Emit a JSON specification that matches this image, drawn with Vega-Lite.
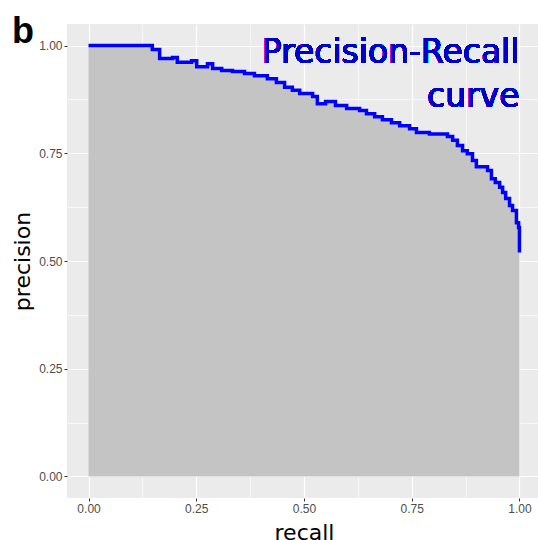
{
  "$schema": "https://vega.github.io/schema/vega-lite/v6.json",
  "width": 474,
  "height": 474,
  "autosize": "none",
  "padding": {"left": 67, "top": 24, "right": 0, "bottom": 42},
  "background": "white",
  "title": {"text": "b", "anchor": "start", "frame": "group", "font": "Liberation Sans", "fontSize": 36, "fontWeight": "bold", "color": "black", "dx": -55, "offset": -55, "baseline": "alphabetic"},
  "config": {
    "view": {"fill": "#EBEBEB", "stroke": null},
    "axis": {
      "domain": false,
      "gridColor": "white",
      "tickColor": "#333333",
      "tickSize": 3,
      "labelColor": "#4D4D4D",
      "labelFont": "Liberation Sans",
      "labelFontSize": 12,
      "labelPadding": 2,
      "titleFont": "DejaVu Sans",
      "titleFontSize": 22,
      "titleFontWeight": "normal",
      "titleColor": "black"
    }
  },
  "data": {"values": [
    {"recall": 0.000, "precision": 1.000},
    {"recall": 0.148, "precision": 1.000},
    {"recall": 0.148, "precision": 0.991},
    {"recall": 0.165, "precision": 0.991},
    {"recall": 0.165, "precision": 0.970},
    {"recall": 0.195, "precision": 0.970},
    {"recall": 0.195, "precision": 0.972},
    {"recall": 0.206, "precision": 0.972},
    {"recall": 0.206, "precision": 0.961},
    {"recall": 0.239, "precision": 0.961},
    {"recall": 0.239, "precision": 0.965},
    {"recall": 0.251, "precision": 0.965},
    {"recall": 0.251, "precision": 0.951},
    {"recall": 0.276, "precision": 0.951},
    {"recall": 0.276, "precision": 0.958},
    {"recall": 0.288, "precision": 0.958},
    {"recall": 0.288, "precision": 0.947},
    {"recall": 0.309, "precision": 0.947},
    {"recall": 0.309, "precision": 0.942},
    {"recall": 0.334, "precision": 0.942},
    {"recall": 0.334, "precision": 0.940},
    {"recall": 0.362, "precision": 0.940},
    {"recall": 0.362, "precision": 0.935},
    {"recall": 0.385, "precision": 0.935},
    {"recall": 0.385, "precision": 0.930},
    {"recall": 0.415, "precision": 0.930},
    {"recall": 0.415, "precision": 0.923},
    {"recall": 0.436, "precision": 0.923},
    {"recall": 0.436, "precision": 0.914},
    {"recall": 0.455, "precision": 0.914},
    {"recall": 0.455, "precision": 0.903},
    {"recall": 0.473, "precision": 0.903},
    {"recall": 0.473, "precision": 0.896},
    {"recall": 0.490, "precision": 0.896},
    {"recall": 0.490, "precision": 0.889},
    {"recall": 0.520, "precision": 0.889},
    {"recall": 0.520, "precision": 0.882},
    {"recall": 0.531, "precision": 0.882},
    {"recall": 0.531, "precision": 0.865},
    {"recall": 0.550, "precision": 0.865},
    {"recall": 0.550, "precision": 0.870},
    {"recall": 0.573, "precision": 0.870},
    {"recall": 0.573, "precision": 0.861},
    {"recall": 0.599, "precision": 0.861},
    {"recall": 0.599, "precision": 0.854},
    {"recall": 0.629, "precision": 0.854},
    {"recall": 0.629, "precision": 0.849},
    {"recall": 0.645, "precision": 0.849},
    {"recall": 0.645, "precision": 0.842},
    {"recall": 0.664, "precision": 0.842},
    {"recall": 0.664, "precision": 0.835},
    {"recall": 0.682, "precision": 0.835},
    {"recall": 0.682, "precision": 0.828},
    {"recall": 0.703, "precision": 0.828},
    {"recall": 0.703, "precision": 0.821},
    {"recall": 0.722, "precision": 0.821},
    {"recall": 0.722, "precision": 0.814},
    {"recall": 0.745, "precision": 0.814},
    {"recall": 0.745, "precision": 0.807},
    {"recall": 0.761, "precision": 0.807},
    {"recall": 0.761, "precision": 0.798},
    {"recall": 0.791, "precision": 0.798},
    {"recall": 0.791, "precision": 0.795},
    {"recall": 0.833, "precision": 0.795},
    {"recall": 0.833, "precision": 0.789},
    {"recall": 0.845, "precision": 0.789},
    {"recall": 0.845, "precision": 0.780},
    {"recall": 0.856, "precision": 0.780},
    {"recall": 0.856, "precision": 0.768},
    {"recall": 0.868, "precision": 0.768},
    {"recall": 0.868, "precision": 0.756},
    {"recall": 0.879, "precision": 0.756},
    {"recall": 0.879, "precision": 0.749},
    {"recall": 0.891, "precision": 0.749},
    {"recall": 0.891, "precision": 0.733},
    {"recall": 0.900, "precision": 0.733},
    {"recall": 0.900, "precision": 0.719},
    {"recall": 0.926, "precision": 0.719},
    {"recall": 0.926, "precision": 0.710},
    {"recall": 0.935, "precision": 0.710},
    {"recall": 0.935, "precision": 0.691},
    {"recall": 0.944, "precision": 0.691},
    {"recall": 0.944, "precision": 0.682},
    {"recall": 0.954, "precision": 0.682},
    {"recall": 0.954, "precision": 0.671},
    {"recall": 0.961, "precision": 0.671},
    {"recall": 0.961, "precision": 0.659},
    {"recall": 0.968, "precision": 0.659},
    {"recall": 0.968, "precision": 0.645},
    {"recall": 0.977, "precision": 0.645},
    {"recall": 0.977, "precision": 0.629},
    {"recall": 0.984, "precision": 0.629},
    {"recall": 0.984, "precision": 0.617},
    {"recall": 0.993, "precision": 0.617},
    {"recall": 0.993, "precision": 0.589},
    {"recall": 0.998, "precision": 0.589},
    {"recall": 0.998, "precision": 0.578},
    {"recall": 1.000, "precision": 0.578},
    {"recall": 1.000, "precision": 0.520}
  ]},
  "encoding": {
    "x": {
      "field": "recall", "type": "quantitative",
      "scale": {"domain": [-0.05, 1.05], "nice": false, "zero": false},
      "axis": {
        "title": "recall",
        "values": [0, 0.125, 0.25, 0.375, 0.5, 0.625, 0.75, 0.875, 1],
        "labelExpr": "(datum.value * 4) % 1 === 0 ? format(datum.value, '.2f') : ''",
        "gridWidth": {"condition": {"test": "(datum.value * 4) % 1 !== 0", "value": 0.6}, "value": 1.2},
        "tickOpacity": {"condition": {"test": "(datum.value * 4) % 1 !== 0", "value": 0}, "value": 1},
        "titlePadding": 8
      }
    },
    "y": {
      "field": "precision", "type": "quantitative", "stack": null,
      "scale": {"domain": [-0.05, 1.05], "nice": false, "zero": false},
      "axis": {
        "title": "precision",
        "values": [0, 0.125, 0.25, 0.375, 0.5, 0.625, 0.75, 0.875, 1],
        "labelExpr": "(datum.value * 4) % 1 === 0 ? format(datum.value, '.2f') : ''",
        "gridWidth": {"condition": {"test": "(datum.value * 4) % 1 !== 0", "value": 0.6}, "value": 1.2},
        "tickOpacity": {"condition": {"test": "(datum.value * 4) % 1 !== 0", "value": 0}, "value": 1},
        "titlePadding": 4
      }
    }
  },
  "layer": [
    {"mark": {"type": "area", "color": "#C4C4C4"}, "encoding": {"order": {"value": null}}},
    {"mark": {"type": "line", "color": "#0000FF", "strokeWidth": 3.5, "strokeJoin": "miter"}, "encoding": {"order": {"value": null}}},
    {
      "mark": {"type": "text", "align": "right", "baseline": "top", "font": "DejaVu Sans", "fontSize": 33, "lineHeight": 44, "color": "#0000CD"},
      "encoding": {
        "x": {"datum": 1},
        "y": {"datum": 1.02},
        "text": {"value": ["Precision-Recall", "curve"]}
      }
    }
  ]
}
